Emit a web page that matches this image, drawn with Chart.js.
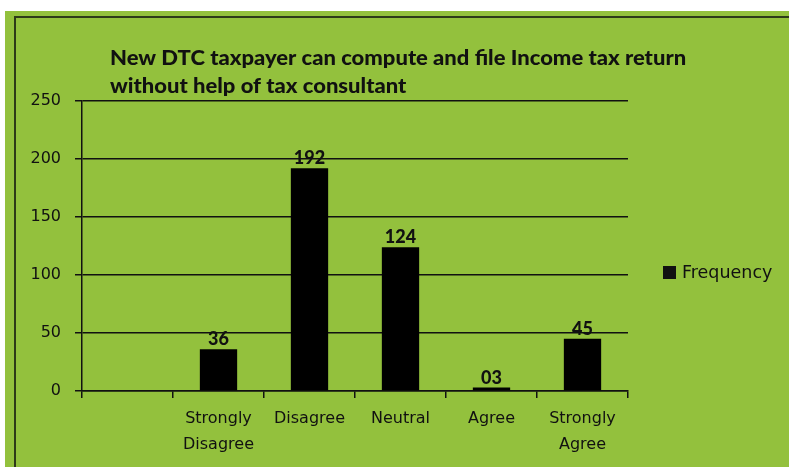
<!DOCTYPE html>
<html>
<head>
<meta charset="utf-8">
<script src="https://cdn.jsdelivr.net/npm/chart.js@4"></script>
<style>
  html, body { margin: 0; padding: 0; background: #fff; }
  canvas { display: block; }
</style>
</head>
<body>
<canvas id="dtcChart" width="789" height="467"></canvas>
<script>
const categories = ["", ["Strongly", "Disagree"], "Disagree", "Neutral", "Agree", ["Strongly", "Agree"]];
const frequency = [null, 36, 192, 124, 3, 45];
const yTicks = [0, 50, 100, 150, 200, 250];
const titleLines = ["New DTC taxpayer can compute and file Income tax return", "without help of tax consultant"];
const seriesName = "Frequency";

const green = "#93c13d";
const ink = "#111";
const tickFont = "'DejaVu Sans'";
const headFont = "Lato";

// green panel, frame, title, legend and value labels
const decor = {
    id: "decor",
    beforeDraw(chart) {
        const c = chart.ctx;
        c.save();
        c.fillStyle = "#fff";
        c.fillRect(0, 0, chart.width, chart.height);
        c.fillStyle = green;
        c.fillRect(5, 11, chart.width - 5, chart.height - 11);
        c.strokeStyle = "#2d3a18";
        c.lineWidth = 2;
        c.strokeRect(15, 17, chart.width + 10, chart.height + 10);
        c.restore();
    },
    afterDraw(chart) {
        const c = chart.ctx;
        c.save();
        c.fillStyle = ink;
        c.textBaseline = "alphabetic";
        c.textAlign = "left";

        // title, widened a little like the original
        c.save();
        c.translate(110, 0);
        c.scale(1.1, 1);
        c.font = "900 20px " + headFont;
        c.fillText(titleLines[0], 0, 65);
        c.fillText(titleLines[1], 0, 93);
        c.restore();

        // legend
        c.fillRect(663, 266, 13, 13);
        c.textBaseline = "middle";
        c.font = "17.5px " + tickFont;
        c.fillText(seriesName, 682, 273);

        // value labels
        c.font = "900 18px " + headFont;
        c.textAlign = "center";
        c.textBaseline = "alphabetic";
        const meta = chart.getDatasetMeta(0);
        meta.data.forEach((bar, i) => {
            const v = frequency[i];
            if (v === null) return;
            c.fillText(String(v).padStart(2, "0"), bar.x, bar.y - 4);
        });
        c.restore();
    }
};

const ctx = document.getElementById("dtcChart").getContext("2d");
new Chart(ctx, {
    type: "bar",
    data: {
        labels: categories,
        datasets: [
            {
                label: seriesName,
                data: frequency,
                backgroundColor: "#000",
                categoryPercentage: 1,
                barPercentage: 0.41,
            },
        ],
    },
    options: {
        responsive: false,
        animation: false,
        layout: {
            padding: { left: 14, top: 101, right: 161, bottom: 10 },
        },
        plugins: {
            legend: { display: false },
            title: { display: false },
            tooltip: { enabled: false },
        },
        scales: {
            x: {
                grid: {
                    drawOnChartArea: false,
                    drawTicks: true,
                    tickLength: 7,
                    color: ink,
                    lineWidth: 1.5,
                },
                border: { color: ink, width: 1.5 },
                ticks: {
                    color: ink,
                    padding: 8,
                    maxRotation: 0,
                    autoSkip: false,
                    font: { family: tickFont, size: 16, lineHeight: 1.6 },
                },
                afterFit(scale) {
                    scale.height = 66;
                },
            },
            y: {
                min: 0,
                max: 250,
                afterBuildTicks(scale) {
                    scale.ticks = yTicks.map(v => ({ value: v }));
                },
                grid: {
                    color: ink,
                    lineWidth: 1.5,
                    tickLength: 7,
                },
                border: { color: ink, width: 1.5 },
                ticks: {
                    color: ink,
                    padding: 14,
                    font: { family: tickFont, size: 16 },
                },
                afterFit(scale) {
                    scale.width = 68;
                },
            },
        },
    },
    plugins: [decor],
});
</script>
</body>
</html>
